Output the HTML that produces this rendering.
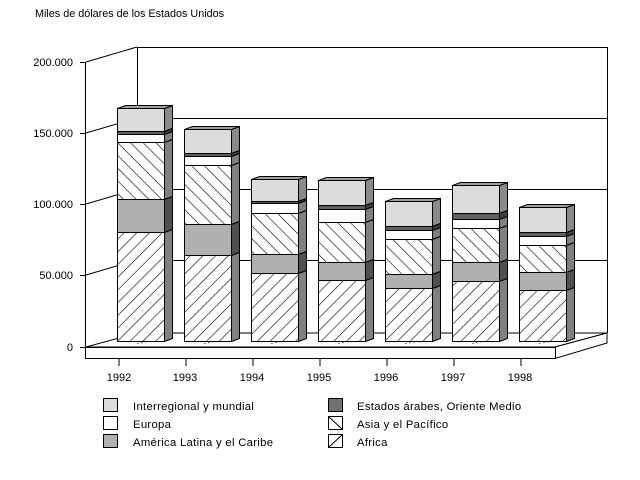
<!DOCTYPE html>
<html><head><meta charset="utf-8"><style>
body{margin:0;background:#fff}
svg{display:block}
text{font-family:"Liberation Sans",Arial,sans-serif;font-size:11px;fill:#000}
.lg{font-size:11.3px;letter-spacing:0.3px}
</style></head><body>
<svg id="s" width="640" height="480" viewBox="0 0 640 480" xmlns="http://www.w3.org/2000/svg">
<defs>
<pattern id="asia" patternUnits="userSpaceOnUse" width="9" height="9" patternTransform="rotate(-45)">
<rect width="9" height="9" fill="#fff"/><line x1="0" y1="0" x2="0" y2="9" stroke="#000" stroke-width="1.2"/></pattern>
<pattern id="africa" patternUnits="userSpaceOnUse" width="9" height="9" patternTransform="rotate(45)">
<rect width="9" height="9" fill="#fff"/><line x1="0" y1="0" x2="0" y2="9" stroke="#000" stroke-width="1.2"/></pattern>
</defs>
<text x="35" y="17" style="font-size:10.8px">Miles de dólares de los Estados Unidos</text>
<g stroke="#000" stroke-width="1" fill="none">
<line x1="137.5" y1="47" x2="137.5" y2="333"/>
<line x1="607.5" y1="47" x2="607.5" y2="333"/>
<line x1="137" y1="47.5" x2="607" y2="47.5"/>
<line x1="137" y1="118.5" x2="607" y2="118.5"/>
<line x1="137" y1="189.5" x2="607" y2="189.5"/>
<line x1="137" y1="260.5" x2="607" y2="260.5"/>
<line x1="86" y1="62" x2="137" y2="47"/>
<line x1="86" y1="133" x2="137" y2="118"/>
<line x1="86" y1="204" x2="137" y2="189"/>
<line x1="86" y1="275" x2="137" y2="260"/>
<polygon points="86,347 137,333 607,333 555,347" fill="#fff"/>
<polygon points="555,347 607,333 607,343 555,358.5" fill="#fff"/>
<rect x="85.5" y="347.5" width="470" height="11" fill="#fff"/>
<line x1="85.5" y1="62" x2="85.5" y2="359"/>
<line x1="80" y1="62.5" x2="86" y2="62.5"/>
<line x1="80" y1="133.5" x2="86" y2="133.5"/>
<line x1="80" y1="204.5" x2="86" y2="204.5"/>
<line x1="80" y1="275.5" x2="86" y2="275.5"/>
<line x1="80" y1="347.5" x2="86" y2="347.5"/>
</g>
<g id="bars"></g>
<g text-anchor="end">
<text x="73" y="66">200.000</text>
<text x="73" y="137">150.000</text>
<text x="73" y="208">100.000</text>
<text x="73" y="279">50.000</text>
<text x="73" y="351">0</text>
</g>
<g text-anchor="middle">
<text x="119" y="381">1992</text><text x="185" y="381">1993</text><text x="252" y="381">1994</text>
<text x="319" y="381">1995</text><text x="386" y="381">1996</text><text x="453" y="381">1997</text><text x="520" y="381">1998</text>
</g>
<g stroke="#000" stroke-width="1">
<rect x="103.5" y="398.5" width="14" height="13" fill="#dcdcdc"/>
<rect x="103.5" y="416.5" width="14" height="13" fill="#fff"/>
<rect x="103.5" y="434.5" width="14" height="13" fill="#b0b0b0"/>
<rect x="328.5" y="398.5" width="14" height="13" fill="#707070"/>
<rect x="328.5" y="416.5" width="14" height="13" fill="#fff"/><line x1="328.5" y1="416.5" x2="342.5" y2="429.5"/>
<rect x="328.5" y="434.5" width="14" height="13" fill="#fff"/><line x1="328.5" y1="447.5" x2="342.5" y2="434.5"/>
</g>
<g class="lg">
<text class="lg" x="133" y="410">Interregional y mundial</text>
<text class="lg" x="133" y="428">Europa</text>
<text class="lg" x="133" y="446">América Latina y el Caribe</text>
<text class="lg" x="357" y="410">Estados árabes, Oriente Medio</text>
<text class="lg" x="357" y="428">Asia y el Pacífico</text>
<text class="lg" x="357" y="446">Africa</text>
</g>
</svg>
<script>
var data=[[108,131,134,142,199,232],[129,153,156,165,224,255],[179,201,203,213,254,273],[180,205,209,222,262,280],[201,226,230,239,274,288],[185,213,219,228,262,281],[207,232,236,245,272,290]];
var fills=['#dcdcdc','#606060','#fff','url(#asia)','#b0b0b0','url(#africa)'];
var sides=['#8a8a8a','#404040','#808080','#808080','#505050','#808080'];
var g=document.getElementById('bars'),h='';
data.forEach(function(d,i){
 var x=117.5+67*i,w=47,b=341;
 var ys=d.concat([b]);
 h+='<line x1="'+(x+20)+'" y1="343.5" x2="'+(x+55)+'" y2="336.5" stroke="#000" stroke-dasharray="1,3"/>';
 for(var k=0;k<6;k++){
  var t=ys[k],bt=ys[k+1];
  h+='<rect x="'+x+'" y="'+(t+.5)+'" width="'+w+'" height="'+(bt-t)+'" fill="'+fills[k]+'" stroke="#000"/>';
  h+='<polygon points="'+(x+w)+','+(t+.5)+' '+(x+w+8)+','+(t-2.5)+' '+(x+w+8)+','+(bt-2.5)+' '+(x+w)+','+(bt+.5)+'" fill="'+sides[k]+'" stroke="#000"/>';
 }
 h+='<polygon points="'+x+','+(d[0]+.5)+' '+(x+8)+','+(d[0]-2.5)+' '+(x+w+8)+','+(d[0]-2.5)+' '+(x+w)+','+(d[0]+.5)+'" fill="#a0a0a0" stroke="#000"/>';
 h+='<line x1="'+(119+67*i)+'" y1="359" x2="'+(119+67*i)+'" y2="366" stroke="#000"/>';
});
g.innerHTML=h;
</script>
</body></html>
